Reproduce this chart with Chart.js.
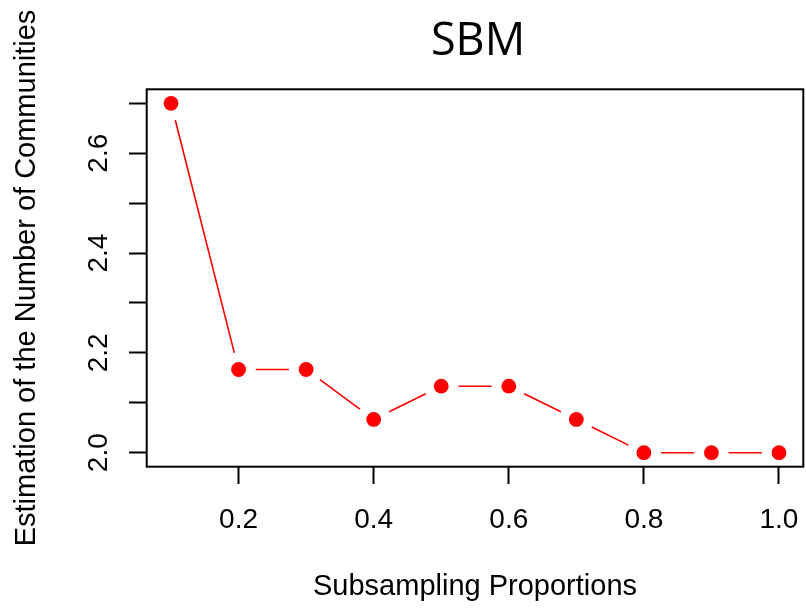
<!DOCTYPE html>
<html>
<head>
<meta charset="utf-8">
<script src="https://cdn.jsdelivr.net/npm/chart.js@4"></script>
<style>
  html, body { margin: 0; padding: 0; background: #ffffff; }
  #wrap { width: 806px; height: 612px; }
</style>
</head>
<body>
<div id="wrap"><canvas id="chart" width="806" height="612"></canvas></div>
<script>
// Subsampling proportion and the estimated number of communities at each one
const proportions = [0.1, 0.2, 0.3, 0.4, 0.5, 0.6, 0.7, 0.8, 0.9, 1.0];
const estimates   = [2.7, 2.1667, 2.1667, 2.0667, 2.1333, 2.1333, 2.0667, 2.0, 2.0, 2.0];

// Axis ticks
const xTicks = [0.2, 0.4, 0.6, 0.8, 1.0];
const yTicks = [2.0, 2.1, 2.2, 2.3, 2.4, 2.5, 2.6, 2.7];
const yTickLabels = [2.0, 2.2, 2.4, 2.6];

const mainTitle = 'SBM';
const xTitle = 'Subsampling Proportions';
const yTitle = 'Estimation of the Number of Communities';

const RED = '#ff0000';
const SANS = '"Liberation Sans", Arial, Helvetica, sans-serif';

// Axis limits padded 4% beyond the data, as base graphics does
function padded(values) {
  const lo = Math.min(...values), hi = Math.max(...values);
  const d = (hi - lo) * 0.04;
  return [lo - d, hi + d];
}
const [xMin, xMax] = padded(proportions);
const [yMin, yMax] = padded(estimates);

// Lines between points with a gap around each marker, plus the frame and text
const basePlot = {
  id: 'basePlot',
  beforeDatasetsDraw(chart) {
    const ctx = chart.ctx;
    const pts = chart.getDatasetMeta(0).data;
    const gap = 17.2;
    ctx.save();
    ctx.strokeStyle = RED;
    ctx.lineWidth = 1.6;
    for (let i = 0; i < pts.length - 1; i++) {
      const a = pts[i], b = pts[i + 1];
      const dx = b.x - a.x, dy = b.y - a.y;
      const len = Math.hypot(dx, dy);
      if (len <= 2 * gap) continue;
      const ux = dx / len, uy = dy / len;
      ctx.beginPath();
      ctx.moveTo(a.x + ux * gap, a.y + uy * gap);
      ctx.lineTo(b.x - ux * gap, b.y - uy * gap);
      ctx.stroke();
    }
    ctx.restore();
  },
  afterDraw(chart) {
    const ctx = chart.ctx;
    const area = chart.chartArea;
    const yScale = chart.scales.y;
    ctx.save();

    // frame around the plotting region
    ctx.strokeStyle = '#000000';
    ctx.lineWidth = 2;
    ctx.strokeRect(area.left, area.top, area.right - area.left, area.bottom - area.top);

    // main title
    ctx.fillStyle = '#000000';
    ctx.font = '45px "Open Sans", sans-serif';
    ctx.textAlign = 'center';
    ctx.textBaseline = 'alphabetic';
    ctx.fillText(mainTitle, (area.left + area.right) / 2 + 3, 55);

    // x axis title
    ctx.font = '29px ' + SANS;
    ctx.fillText(xTitle, (area.left + area.right) / 2, 595);

    // y axis title, reading upwards
    ctx.save();
    ctx.translate(35, (area.top + area.bottom) / 2);
    ctx.rotate(-Math.PI / 2);
    ctx.fillText(yTitle, 0, 0);
    ctx.restore();

    // y tick labels, parallel to the axis
    ctx.font = '28px ' + SANS;
    yTickLabels.forEach(v => {
      const py = yScale.getPixelForValue(v);
      ctx.save();
      ctx.translate(106.5, py);
      ctx.rotate(-Math.PI / 2);
      ctx.fillText(v.toFixed(1), 0, 0);
      ctx.restore();
    });

    ctx.restore();
  }
};

new Chart(document.getElementById('chart'), {
  type: 'line',
  data: {
    datasets: [{
      data: proportions.map((p, i) => ({ x: p, y: estimates[i] })),
      showLine: false,
      pointRadius: 7.4,
      pointHoverRadius: 7.4,
      pointBackgroundColor: RED,
      pointBorderWidth: 0,
      borderColor: RED
    }]
  },
  options: {
    responsive: false,
    animation: false,
    devicePixelRatio: 1,
    layout: {
      autoPadding: false,
      padding: { left: 0, right: 2.7, top: 89.3, bottom: 0 }
    },
    plugins: {
      legend: { display: false },
      title: { display: false },
      tooltip: { enabled: false }
    },
    scales: {
      x: {
        type: 'linear',
        min: xMin,
        max: xMax,
        afterBuildTicks(scale) { scale.ticks = xTicks.map(v => ({ value: v })); },
        afterFit(scale) {
          scale.height = 612 - 466.7;
          scale.paddingLeft = 0;
          scale.paddingRight = 0;
        },
        border: { display: false },
        grid: {
          drawOnChartArea: false,
          drawTicks: true,
          tickLength: 17.3,
          tickColor: '#000000',
          tickWidth: 2
        },
        ticks: {
          autoSkip: false,
          maxRotation: 0,
          minRotation: 0,
          padding: 19,
          color: '#000000',
          font: { family: SANS, size: 28 },
          callback: v => Number(v).toFixed(1)
        }
      },
      y: {
        type: 'linear',
        min: yMin,
        max: yMax,
        afterBuildTicks(scale) { scale.ticks = yTicks.map(v => ({ value: v })); },
        afterFit(scale) {
          scale.width = 146.7;
          scale.paddingTop = 0;
          scale.paddingBottom = 0;
        },
        border: { display: false },
        grid: {
          drawOnChartArea: false,
          drawTicks: true,
          tickLength: 17.7,
          tickColor: '#000000',
          tickWidth: 2
        },
        ticks: {
          autoSkip: false,
          padding: 0,
          color: '#000000',
          font: { family: SANS, size: 28 },
          callback: () => ''
        }
      }
    }
  },
  plugins: [basePlot]
});
</script>
</body>
</html>
